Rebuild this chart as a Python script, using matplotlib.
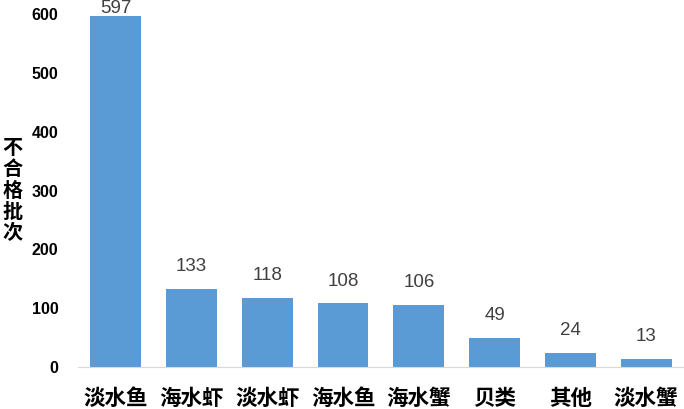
import matplotlib
matplotlib.use("Agg")
import matplotlib.pyplot as plt

# categories and counts of unqualified batches
categories = ["淡水鱼", "海水虾", "淡水虾", "海水鱼", "海水蟹", "贝类", "其他", "淡水蟹"]
counts = [597, 133, 118, 108, 106, 49, 24, 13]
y_ticks = [0, 100, 200, 300, 400, 500, 600]
y_label = "不合格批次"

plt.rcParams['font.family'] = ['Liberation Sans', 'Noto Sans CJK SC', 'DejaVu Sans']

fig = plt.figure(figsize=(6.84, 4.09), dpi=100)
ax = fig.add_axes([0.114, 0.1027, 0.886, 0.863])

bars = ax.bar(range(len(categories)), counts, width=0.67, color="#5B9BD5")

ax.set_xlim(-0.5, len(categories) - 0.5)
ax.set_ylim(0, 600)
ax.set_yticks(y_ticks)
ax.set_yticklabels([str(t) for t in y_ticks], fontsize=11.5, fontweight="bold")
ax.set_xticks(range(len(categories)))
ax.set_xticklabels(categories, family=['Noto Sans CJK SC'], fontsize=15.5, fontweight="bold")
ax.tick_params(axis="both", length=0)
ax.tick_params(axis="x", pad=15)
ax.tick_params(axis="y", pad=14)

for s in ["top", "right", "left"]:
    ax.spines[s].set_visible(False)
ax.spines["bottom"].set_color("#D9D9D9")

# value labels above the bars
for b, v in zip(bars, counts):
    off = -1 if v > 550 else 10
    ax.annotate(str(v), (b.get_x() + b.get_width() / 2, v), xytext=(0, off),
                textcoords="offset points", ha="center", va="bottom",
                fontsize=13.5, color="#404040", annotation_clip=False)

fig.text(0.018, 0.535, "\n".join(y_label), family=['Noto Sans CJK SC'], fontsize=14.5,
         fontweight="bold", ha="center", va="center", linespacing=1.02)

fig.savefig("out.png", dpi=100)
